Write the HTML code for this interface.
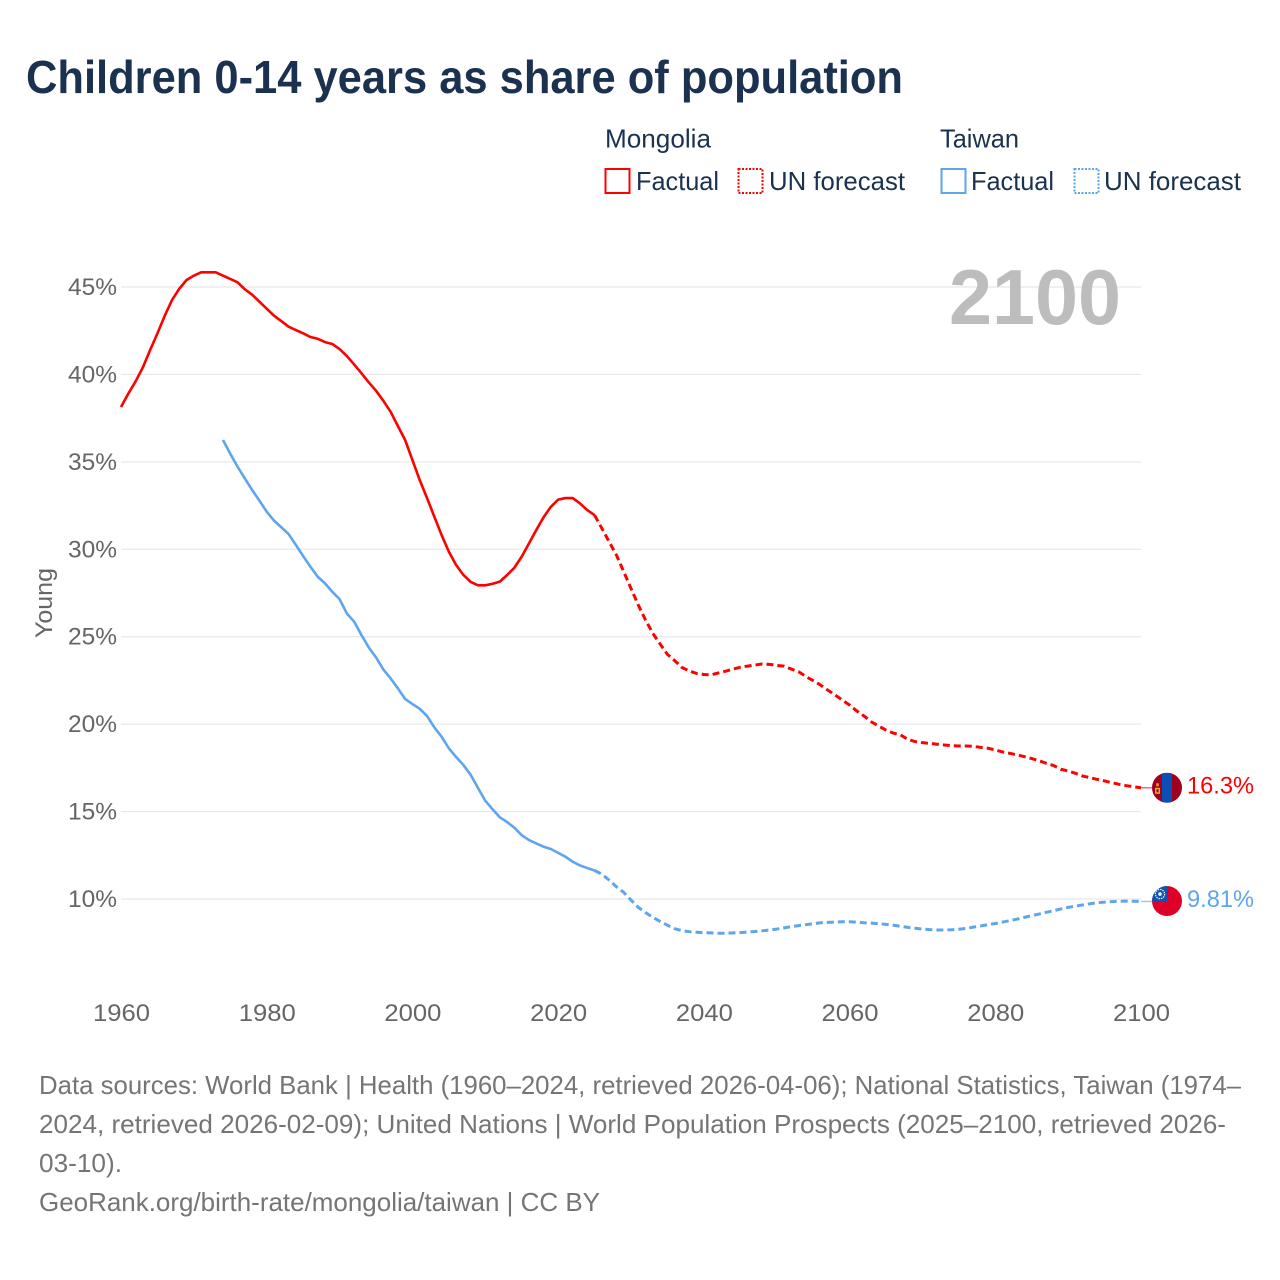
<!DOCTYPE html>
<html lang="en">
<head>
<meta charset="utf-8">
<title>Children 0-14 years as share of population</title>
<style>
html,body{margin:0;padding:0;background:#fff;}
svg{display:block;}
text{font-family:"Liberation Sans",sans-serif;}
.leg{font-size:26px;fill:#1a3150;}
.foot{font-size:26px;fill:#757575;}
.tick{font-size:24px;fill:#666;}
</style>
</head>
<body>
<svg id="chart" xmlns="http://www.w3.org/2000/svg" width="1280" height="1280" viewBox="0 0 1280 1280">
  <rect x="0" y="0" width="1280" height="1280" fill="#fff"/>
  <text x="26" y="93" font-size="46" font-weight="700" fill="#1a3150" textLength="877" lengthAdjust="spacingAndGlyphs">Children 0-14 years as share of population</text>

  <g>
    <text class="leg" x="605" y="147.5" textLength="106" lengthAdjust="spacingAndGlyphs">Mongolia</text>
    <rect x="605.5" y="169" width="24" height="24" fill="none" stroke="#ff0000" stroke-width="2"/>
    <text class="leg" x="636" y="190" textLength="83" lengthAdjust="spacingAndGlyphs">Factual</text>
    <rect x="738.5" y="169" width="24" height="24" fill="none" stroke="#ff0000" stroke-width="2" stroke-dasharray="2 1.5"/>
    <text class="leg" x="769" y="190" textLength="136" lengthAdjust="spacingAndGlyphs">UN forecast</text>

    <text class="leg" x="940" y="147.5" textLength="79" lengthAdjust="spacingAndGlyphs">Taiwan</text>
    <rect x="941.5" y="169" width="24" height="24" fill="none" stroke="#5ea5ee" stroke-width="2"/>
    <text class="leg" x="971" y="190" textLength="83" lengthAdjust="spacingAndGlyphs">Factual</text>
    <rect x="1074.5" y="169" width="24" height="24" fill="none" stroke="#5ea5ee" stroke-width="2" stroke-dasharray="2 1.5"/>
    <text class="leg" x="1104" y="190" textLength="137" lengthAdjust="spacingAndGlyphs">UN forecast</text>
  </g>

  <g id="grid"></g>
  <text x="949" y="324" font-size="78" font-weight="700" fill="#bdbdbd" textLength="172" lengthAdjust="spacingAndGlyphs">2100</text>
  <g id="yticks"></g>
  <g id="xticks"></g>
  <text class="tick" transform="translate(52,638) rotate(-90)" textLength="70" lengthAdjust="spacingAndGlyphs">Young</text>
  <g id="series"></g>

  <defs>
    <clipPath id="clip-mn"><circle cx="1167" cy="788" r="15"/></clipPath>
    <clipPath id="clip-tw"><circle cx="1167" cy="901" r="15"/></clipPath>
  </defs>
  <g id="flag-mn" clip-path="url(#clip-mn)">
    <rect x="1152" y="773" width="30" height="30" fill="#a0001f"/>
    <rect x="1162" y="773" width="10" height="30" fill="#0a50b4"/>
    <rect x="1155" y="788" width="5" height="6" fill="#e9a92c"/>
    <rect x="1156.5" y="789.5" width="2" height="3" fill="#a0001f"/>
    <rect x="1156.3" y="783.5" width="2.4" height="3" fill="#e9a92c"/>
  </g>
  <g id="flag-tw" clip-path="url(#clip-tw)">
    <rect x="1152" y="886" width="30" height="30" fill="#de0029"/>
    <rect x="1152" y="886" width="15" height="15.5" fill="#0f55b0"/>
    <circle cx="1160" cy="894" r="4.6" fill="none" stroke="#e6eef9" stroke-width="1.2" stroke-dasharray="1.5 0.9"/>
    <circle cx="1160" cy="894" r="1.8" fill="#fff"/>
  </g>

  <g>
    <text class="foot" x="39" y="1094" textLength="1202" lengthAdjust="spacingAndGlyphs">Data sources: World Bank | Health (1960–2024, retrieved 2026-04-06); National Statistics, Taiwan (1974–</text>
    <text class="foot" x="39" y="1133" textLength="1187" lengthAdjust="spacingAndGlyphs">2024, retrieved 2026-02-09); United Nations | World Population Prospects (2025–2100, retrieved 2026-</text>
    <text class="foot" x="39" y="1172" textLength="83" lengthAdjust="spacingAndGlyphs">03-10).</text>
    <text class="foot" x="39" y="1211" textLength="561" lengthAdjust="spacingAndGlyphs">GeoRank.org/birth-rate/mongolia/taiwan | CC BY</text>
  </g>
</svg>
<script>
const xTickYears = [1960, 1980, 2000, 2020, 2040, 2060, 2080, 2100];
const yTickValues = [10, 15, 20, 25, 30, 35, 40, 45];
const yTickLabels = ["10%", "15%", "20%", "25%", "30%", "35%", "40%", "45%"];

const mongoliaFactualYearStart = 1960;
const mongoliaFactual = [38.14,38.9,39.6,40.4,41.4,42.35,43.35,44.25,44.9,45.4,45.65,45.84,45.84,45.84,45.65,45.46,45.27,44.87,44.56,44.16,43.76,43.36,43.05,42.73,42.54,42.35,42.14,42.04,41.85,41.74,41.45,41.05,40.57,40.07,39.55,39.07,38.5,37.87,37.05,36.25,35.1,33.96,32.93,31.87,30.82,29.86,29.1,28.53,28.13,27.94,27.94,28.03,28.15,28.53,28.95,29.58,30.34,31.1,31.83,32.43,32.84,32.93,32.93,32.62,32.24,31.95];
const mongoliaForecastYearStart = 2025;
const mongoliaForecast = [31.95,31.2,30.43,29.67,28.72,27.76,26.81,25.95,25.19,24.58,23.99,23.63,23.24,23.04,22.9,22.84,22.82,22.93,23.03,23.15,23.25,23.32,23.38,23.44,23.42,23.36,23.32,23.15,23.0,22.72,22.49,22.24,21.95,21.67,21.38,21.09,20.75,20.46,20.13,19.89,19.66,19.49,19.38,19.13,19.0,18.94,18.9,18.85,18.81,18.77,18.75,18.75,18.73,18.67,18.62,18.52,18.41,18.33,18.24,18.14,18.03,17.91,17.76,17.63,17.42,17.32,17.19,17.03,16.94,16.84,16.75,16.65,16.56,16.48,16.42,16.36];
const taiwanFactualYearStart = 1974;
const taiwanFactual = [36.25,35.46,34.72,34.05,33.39,32.78,32.15,31.64,31.26,30.87,30.25,29.61,29.0,28.43,28.05,27.57,27.15,26.33,25.86,25.1,24.39,23.82,23.13,22.62,22.05,21.44,21.15,20.88,20.47,19.82,19.28,18.62,18.12,17.66,17.1,16.35,15.62,15.13,14.67,14.4,14.07,13.65,13.37,13.18,12.99,12.86,12.64,12.42,12.13,11.92,11.77,11.63];
const taiwanForecastYearStart = 2025;
const taiwanForecast = [11.63,11.42,11.08,10.7,10.38,9.94,9.52,9.22,8.95,8.72,8.5,8.3,8.19,8.13,8.1,8.07,8.06,8.04,8.04,8.06,8.08,8.11,8.14,8.18,8.23,8.28,8.35,8.42,8.48,8.53,8.59,8.64,8.66,8.68,8.7,8.7,8.67,8.64,8.62,8.59,8.55,8.5,8.44,8.38,8.33,8.28,8.25,8.23,8.23,8.24,8.27,8.32,8.39,8.46,8.53,8.6,8.68,8.76,8.85,8.95,9.05,9.14,9.24,9.33,9.43,9.52,9.59,9.66,9.73,9.79,9.82,9.85,9.87,9.88,9.87,9.86];
const mongoliaEndLabel = "16.3%";
const taiwanEndLabel = "9.81%";

const NS = "http://www.w3.org/2000/svg";
const xScale = year => 121 + (year - 1960) * (1020 / 140);
const yScale = value => 899 - (value - 10) * (612 / 35);
const make = tag => document.createElementNS(NS, tag);

const gridGroup = document.getElementById("grid");
const yTickGroup = document.getElementById("yticks");
const xTickGroup = document.getElementById("xticks");
const seriesGroup = document.getElementById("series");

yTickValues.forEach((value, i) => {
  const line = make("line");
  
  
  line.setAttribute("x1", xScale(1960));
  line.setAttribute("x2", xScale(2100));
  line.setAttribute("y1", yScale(value));
  line.setAttribute("y2", yScale(value));
  line.setAttribute("stroke", "#e8e8e8");
  line.setAttribute("stroke-width", "1.2");
  gridGroup.appendChild(line);

  const label = make("text");
  
  
  label.setAttribute("class", "tick");
  label.setAttribute("x", 68);
  label.setAttribute("y", yScale(value) + 8);
  label.setAttribute("textLength", 49);
  label.setAttribute("lengthAdjust", "spacingAndGlyphs");
  label.textContent = yTickLabels[i];
  yTickGroup.appendChild(label);
});

xTickYears.forEach(year => {
  const label = make("text");
  
  
  label.setAttribute("class", "tick");
  label.setAttribute("x", xScale(year) - 28);
  label.setAttribute("y", 1021);
  label.setAttribute("textLength", 57);
  label.setAttribute("lengthAdjust", "spacingAndGlyphs");
  label.textContent = String(year);
  xTickGroup.appendChild(label);
});

function drawLine(name, startYear, values, color, dashed) {
  const path = make("path");
  
  
  const d = values.map((v, i) => (i ? "L" : "M") + xScale(startYear + i).toFixed(2) + " " + yScale(v).toFixed(2)).join(" ");
  path.setAttribute("d", d);
  path.setAttribute("fill", "none");
  path.setAttribute("stroke", color);
  path.setAttribute("stroke-width", dashed ? "3" : "2.6");
  path.setAttribute("stroke-linejoin", "round");
  if (dashed) path.setAttribute("stroke-dasharray", "7 4");
  seriesGroup.appendChild(path);
}

drawLine("mongolia-factual-line", mongoliaFactualYearStart, mongoliaFactual, "#ff0000", false);
drawLine("mongolia-forecast-line", mongoliaForecastYearStart, mongoliaForecast, "#ff0000", true);
drawLine("taiwan-factual-line", taiwanFactualYearStart, taiwanFactual, "#5ea5ee", false);
drawLine("taiwan-forecast-line", taiwanForecastYearStart, taiwanForecast, "#5ea5ee", true);

function drawEnd(name, values, color, text, flagId, baseY) {
  const last = values[values.length - 1];
  const yEnd = yScale(last);

  const conn = make("line");
  
  
  conn.setAttribute("x1", xScale(2100));
  conn.setAttribute("x2", xScale(2100) + 11);
  conn.setAttribute("y1", yEnd);
  conn.setAttribute("y2", yEnd);
  conn.setAttribute("stroke", color);
  conn.setAttribute("stroke-opacity", "0.6");
  conn.setAttribute("stroke-width", "1.5");
  seriesGroup.appendChild(conn);

  const label = make("text");
  
  
  label.setAttribute("x", 1187);
  label.setAttribute("y", yEnd + 5.8);
  label.setAttribute("font-size", "24");
  label.setAttribute("fill", color);
  label.setAttribute("textLength", 67);
  label.setAttribute("lengthAdjust", "spacingAndGlyphs");
  label.textContent = text;
  seriesGroup.appendChild(label);

  const dy = yEnd - baseY;
  document.getElementById(flagId).setAttribute("transform", "translate(0," + dy.toFixed(2) + ")");
}

drawEnd("mongolia", mongoliaForecast, "#ff0000", mongoliaEndLabel, "flag-mn", 788);
drawEnd("taiwan", taiwanForecast, "#5ea5ee", taiwanEndLabel, "flag-tw", 901.4);
</script>
</body>
</html>
